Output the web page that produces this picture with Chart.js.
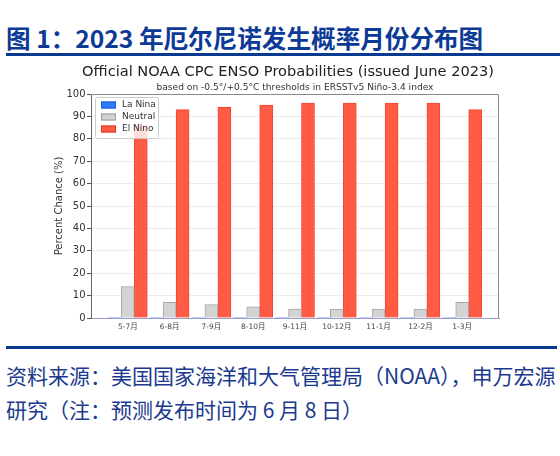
<!DOCTYPE html>
<html>
<head>
<meta charset="utf-8">
<script src="https://cdn.jsdelivr.net/npm/chart.js@4/dist/chart.umd.min.js"></script>
<style>
  html, body { margin: 0; padding: 0; background: #fff; }
  body { width: 560px; height: 456px; position: relative; overflow: hidden; }
  #heading { position: absolute; left: 6px; top: 22px; font: bold 24.6px "Noto Sans CJK SC", sans-serif; line-height: 30px; color: #0c3a96; white-space: nowrap; }
  .rule { position: absolute; left: 6px; background: #0a3a8f; }
  #rule1 { top: 53px; height: 3px; width: 554px; }
  #rule2 { top: 346px; height: 3px; width: 551px; }
  .src { position: absolute; left: 6px; font: 21px "Noto Sans CJK SC", sans-serif; line-height: 28px; color: #1b3a8e; white-space: nowrap; }
  #src1 { top: 361px; }
  #src2 { top: 395px; }
  #wrap { position: absolute; left: 0; top: 56px; width: 560px; height: 290px; }
</style>
</head>
<body>
<div id="heading">图 1：2023 年厄尔尼诺发生概率月份分布图</div>
<div class="rule" id="rule1"></div>
<div id="wrap"><canvas id="c" width="560" height="290"></canvas></div>
<div class="rule" id="rule2"></div>
<div class="src" id="src1">资料来源：美国国家海洋和大气管理局（NOAA），申万宏源</div>
<div class="src" id="src2">研究（注：预测发布时间为 6 月 8 日）</div>
<script>
const categories = ['5-7月', '6-8月', '7-9月', '8-10月', '9-11月', '10-12月', '11-1月', '12-2月', '1-3月'];
const laNina  = [0, 0, 0, 0, 0, 0, 0, 0, 0];
const neutral = [14, 7, 6, 5, 4, 4, 4, 4, 7];
const elNino  = [86, 93, 94, 95, 96, 96, 96, 96, 93];
const yTicks  = [0, 10, 20, 30, 40, 50, 60, 70, 80, 90, 100];
const chartTitle = 'Official NOAA CPC ENSO Probabilities (issued June 2023)';
const chartSubtitle = 'based on -0.5°/+0.5°C thresholds in ERSSTv5 Niño-3.4 index';
const yTitle = 'Percent Chance (%)';
const seriesNames = ['La Nina', 'Neutral', 'El Nino'];

const toPoints = arr => arr.map((v, i) => ({ x: i, y: v }));

const titlePlugin = {
  id: 'customTitles',
  afterDraw(chart) {
    const ctx = chart.ctx;
    ctx.save();
    ctx.fillStyle = '#222';
    ctx.textAlign = 'center';
    ctx.textBaseline = 'middle';
    ctx.font = '14.6px "DejaVu Sans"';
    ctx.fillText(chartTitle, 288, 16);
    ctx.font = '9.1px "DejaVu Sans"';
    ctx.fillStyle = '#333';
    ctx.fillText(chartSubtitle, (chart.chartArea.left + chart.chartArea.right) / 2, 32);
    ctx.restore();
  }
};

const framePlugin = {
  id: 'frame',
  afterDatasetsDraw(chart) {
    const { ctx, chartArea: a } = chart;
    ctx.save();
    ctx.strokeStyle = '#8a8a8a';
    ctx.lineWidth = 1;
    ctx.beginPath();
    ctx.moveTo(a.left, a.top + 0.5);
    ctx.lineTo(a.right - 0.5, a.top + 0.5);
    ctx.lineTo(a.right - 0.5, a.bottom);
    ctx.stroke();
    // legend
    const lx = a.left + 4, ly = a.top + 3, lw = 63, lh = 41;
    ctx.fillStyle = 'rgba(255,255,255,0.8)';
    ctx.strokeStyle = '#cccccc';
    ctx.beginPath();
    if (ctx.roundRect) ctx.roundRect(lx + 0.5, ly + 0.5, lw, lh, 2); else ctx.rect(lx + 0.5, ly + 0.5, lw, lh);
    ctx.fill();
    ctx.stroke();
    ctx.font = '9px "DejaVu Sans"';
    ctx.textBaseline = 'middle';
    ctx.textAlign = 'left';
    chart.data.datasets.forEach((ds, i) => {
      const cy = ly + 8 + i * 12;
      ctx.fillStyle = ds.backgroundColor;
      ctx.fillRect(lx + 6, cy - 3.5, 15, 7);
      ctx.strokeStyle = ds.legendBorder;
      ctx.lineWidth = 1;
      ctx.strokeRect(lx + 6.5, cy - 3, 14, 6);
      ctx.fillStyle = '#333';
      ctx.fillText(ds.label, lx + 27, cy);
    });
    ctx.restore();
  }
};

new Chart(document.getElementById('c'), {
  type: 'bar',
  data: {
    datasets: [
      { label: seriesNames[0], data: toPoints(laNina), backgroundColor: '#2a7dff', borderColor: '#1f5fd0', legendBorder: '#1f5fd0', borderWidth: 0, barThickness: 13 },
      { label: seriesNames[1], data: toPoints(neutral), backgroundColor: '#d3d3d3', borderColor: '#a8a8a8', legendBorder: '#9a9a9a', borderWidth: 1, barThickness: 13 },
      { label: seriesNames[2], data: toPoints(elNino), backgroundColor: '#ff5b45', borderColor: '#f04632', legendBorder: '#e03a28', borderWidth: 1, barThickness: 13 }
    ]
  },
  options: {
    responsive: false,
    devicePixelRatio: 1,
    animation: false,
    layout: { padding: { left: 0, right: 61, top: 38, bottom: 0 } },
    plugins: {
      legend: { display: false },
      title: { display: false },
      tooltip: { enabled: false }
    },
    scales: {
      x: {
        type: 'linear',
        offset: false,
        min: -0.88,
        max: 8.88,
        afterBuildTicks(scale) { scale.ticks = categories.map((_, i) => ({ value: i })); },
        afterFit(scale) { scale.height = 28; },
        ticks: {
          autoSkip: false,
          maxRotation: 0,
          padding: 5,
          font: { family: '"DejaVu Sans", "Noto Sans CJK SC"', size: 7.5 },
          color: '#444',
          callback: v => categories[v] !== undefined ? categories[v] : ''
        },
        grid: { drawOnChartArea: false, drawTicks: false, offset: false },
        border: { color: '#9a9ac8', width: 1 }
      },
      y: {
        min: 0,
        max: 100,
        afterBuildTicks(scale) { scale.ticks = yTicks.map(v => ({ value: v })); },
        afterFit(scale) { scale.width = 91; },
        ticks: {
          padding: 1.5,
          font: { family: '"DejaVu Sans"', size: 10 },
          color: '#333'
        },
        grid: { color: '#ececec', tickColor: '#555', tickLength: 4 },
        border: { color: '#666', width: 1 },
        title: {
          display: true,
          text: yTitle,
          font: { family: '"DejaVu Sans"', size: 10 },
          color: '#333',
          padding: { top: 53, bottom: 0 }
        }
      }
    }
  },
  plugins: [titlePlugin, framePlugin]
});
</script>
</body>
</html>
